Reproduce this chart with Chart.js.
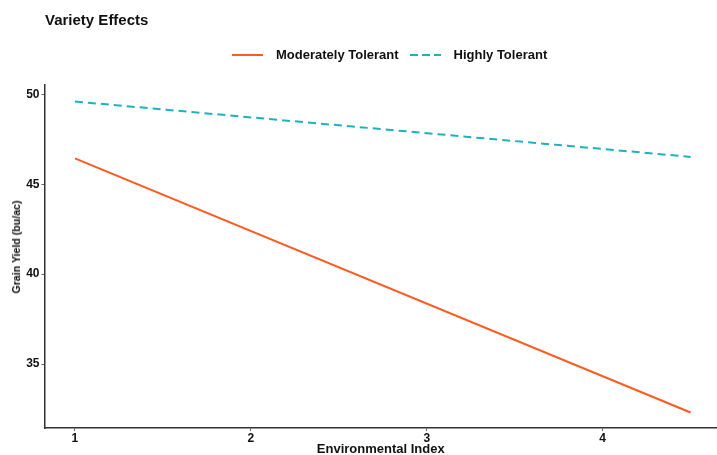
<!DOCTYPE html>
<html lang="en">
<head>
  <meta charset="UTF-8" />
  <title>Variety Effects</title>
  <script src="https://cdn.jsdelivr.net/npm/chart.js"></script>
  <style>
    html, body { margin: 0; padding: 0; background: #fff; overflow: hidden; }
    body { font-family: "Liberation Sans", Arial, sans-serif; color: #111; }
    #wrap { position: relative; width: 717px; height: 455px; }
    #title { position: absolute; left: 45px; top: 11px; font-size: 15px; font-weight: bold; }
    #legend { position: absolute; left: 232px; top: 47px; font-size: 13px; font-weight: bold; display: flex; align-items: center; }
    .key { width: 31px; height: 0; margin-right: 13px; }
    .item { display: flex; align-items: center; margin-right: 11px; }
    #ytitle { position: absolute; left: 16px; top: 247px; font-size: 10.6px; font-weight: bold; white-space: nowrap;
              transform: translate(-50%, -50%) rotate(-90deg); }
  </style>
</head>
<body>
  <div id="wrap">
    <canvas id="chart" width="717" height="455"></canvas>
    <div id="title">Variety Effects</div>
    <div id="legend"></div>
    <div id="ytitle">Grain Yield (bu/ac)</div>
  </div>

  <script>
    // data
    const seriesNames = ['Moderately Tolerant', 'Highly Tolerant'];
    const envIndex = [1, 4.5];
    const moderateYield = [46.44, 32.3];
    const highYield = [49.6, 46.52];
    const xTicks = [1, 2, 3, 4];
    const yTicks = [35, 40, 45, 50];

    const colors = ['#FF5A1F', '#1BB3C1'];
    const dashes = [[], [8, 5]];

    const font = { family: '"Liberation Sans", Arial, sans-serif', weight: 'bold' };

    const datasets = [moderateYield, highYield].map((vals, i) => ({
      label: seriesNames[i],
      data: vals.map((y, j) => ({ x: envIndex[j], y })),
      borderColor: colors[i],
      borderWidth: 2,
      borderDash: dashes[i],
      pointRadius: 0,
      showLine: true,
      fill: false
    }));

    // legend as html
    const legend = document.getElementById('legend');
    seriesNames.forEach((name, i) => {
      const item = document.createElement('div');
      item.className = 'item';
      const key = document.createElement('div');
      key.className = 'key';
      key.style.height = '2px';
      key.style.background = i === 1
        ? 'repeating-linear-gradient(90deg,' + colors[i] + ' 0 8px, transparent 8px 12px)'
        : colors[i];
      item.appendChild(key);
      const txt = document.createElement('span');
      txt.textContent = name;
      item.appendChild(txt);
      legend.appendChild(item);
    });

    new Chart(document.getElementById('chart'), {
      type: 'scatter',
      data: { datasets },
      options: {
        responsive: false,
        animation: false,
        layout: { padding: { top: 85, right: 0, left: 0, bottom: 0 } },
        plugins: { legend: { display: false }, tooltip: { enabled: false } },
        scales: {
          x: {
            type: 'linear',
            min: 0.827,
            max: 4.65,
            afterBuildTicks: s => { s.ticks = xTicks.map(v => ({ value: v })); },
            afterFit: s => { s.height = 27; },
            grid: { drawOnChartArea: false, tickLength: 3, color: '#666' },
            border: { color: '#333', width: 1.5 },
            ticks: { color: '#111', font: { ...font, size: 12 }, padding: 0 },
            title: { display: true, text: 'Environmental Index', color: '#111', font: { ...font, size: 13 }, padding: { top: 0, bottom: -2.5 } }
          },
          y: {
            min: 31.44,
            max: 50.52,
            afterBuildTicks: s => { s.ticks = yTicks.map(v => ({ value: v })); },
            afterFit: s => { s.width = 44.5; },
            grid: { drawOnChartArea: false, tickLength: 3, color: '#666' },
            border: { color: '#333', width: 1.5 },
            ticks: { color: '#111', font: { ...font, size: 12 }, padding: 2 }
          }
        }
      }
    });
  </script>
</body>
</html>
